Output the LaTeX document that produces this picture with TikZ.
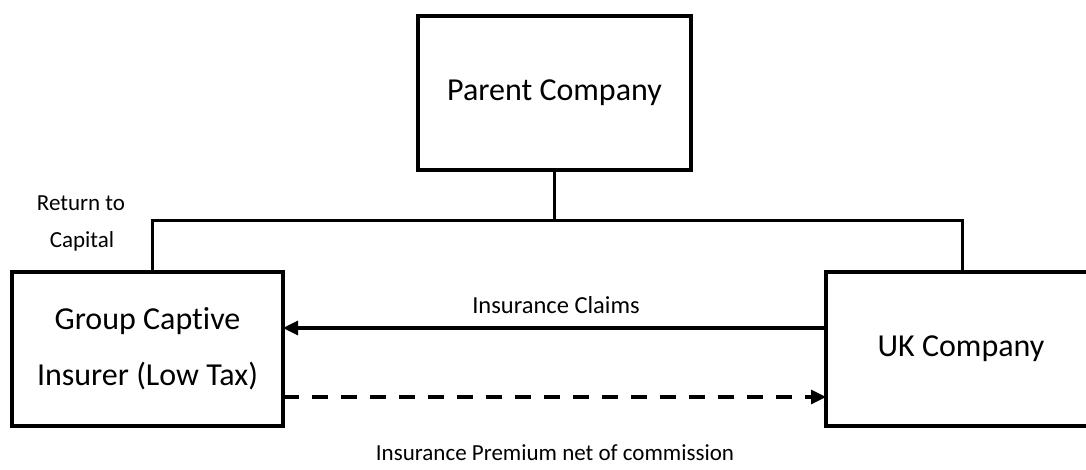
\documentclass[tikz,border=0pt]{standalone}
\usepackage{fontspec}
\setmainfont{Carlito}[Ligatures={NoCommon}]
\usetikzlibrary{arrows.meta}
\begin{document}
\begin{tikzpicture}[x=1pt,y=-1pt,
  entity/.style={draw, line width=4pt, inner sep=0pt, outer sep=0pt,
    minimum height=154pt, align=center,
    font=\fontsize{32}{56}\selectfont},
  link/.style={line width=3pt},
  flow/.style={line width=3.2pt, -{Triangle[length=15pt,width=14pt]}},
  label/.style={font=\fontsize{23}{37}\selectfont, inner sep=0pt}]
  \useasboundingbox (0,0) rectangle (1086,469);
  \begin{scope}
  \clip (0,0) rectangle (1086,469);
  % the three companies
  \node[entity, minimum width=273pt] (parent) at (554.5,93) {Parent Company};
  \node[entity, minimum width=271pt] (captive) at (147.5,349) {Group Captive\\Insurer (Low Tax)};
  \node[entity, minimum width=270pt] (uk) at (961,349) {UK Company};
  % ownership bus
  \coordinate (busL) at (152,220);
  \coordinate (busR) at (962,220);
  \draw[link] (parent.south) -- (parent.south |- busL);
  \draw[link] (captive.north -| busL) -- (busL) -- (busR) -- (uk.north -| busR);
  % flows between the subsidiaries
  \coordinate (claimsY) at (0,328);
  \coordinate (premY) at (0,397);
  \draw[flow] (uk.west |- claimsY) -- (captive.east |- claimsY);
  \draw[flow, dash pattern=on 16pt off 13pt] (captive.east |- premY) -- (uk.west |- premY);
  \end{scope}
  % labels
  \node[label] (ret) at (81,203) {Return to};
  \node[label] (cap) at (82,241) {Capital};
  \node[label, font=\fontsize{24.5}{37}\selectfont] (claims) at (556,305) {Insurance Claims};
  \node[label] (prem) at (555,453) {Insurance Premium net of commission};
\end{tikzpicture}
\end{document}
